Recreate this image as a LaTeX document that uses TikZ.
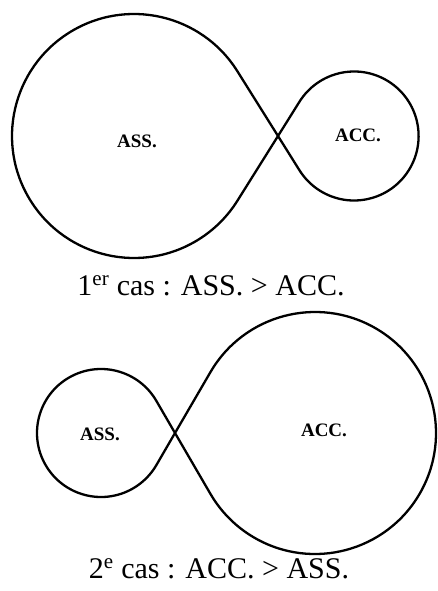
\documentclass[tikz,border=0pt]{standalone}
\usepackage{fontspec}
\setmainfont{Liberation Serif}
\begin{document}
\begin{tikzpicture}[x=1pt, y=1pt, line width=2.3pt, line join=round,
    lbl/.style={font=\fontsize{19}{19}\selectfont\bfseries},
    legende/.style={font=\fontsize{30}{30}\selectfont, anchor=base}]
    \useasboundingbox (0,0) rectangle (438,-591);

    % 1er cas : grande boucle a gauche
    \coordinate (B1) at (134,-136);
    \coordinate (S1) at (354.1,-136);
    \coordinate (X1) at (278,-136);
    \draw ([shift={(32.1:122)}]B1) arc[start angle=32.1, end angle=327.9, radius=122]
        -- (X1) -- ([shift={(147.9:64.5)}]S1) arc[start angle=147.9, end angle=-147.9, radius=64.5]
        -- (X1) -- cycle;
    \node[lbl] (ass1) at (137,-141) {ASS.};
    \node[lbl] (acc1) at (358,-135) {ACC.};
    \node[legende] (cas1) at (211,-295) {1\textsuperscript{er} cas : ASS. > ACC.};

    % 2e cas : grande boucle a droite
    \coordinate (S2) at (101,-433);
    \coordinate (B2) at (315,-433);
    \coordinate (X2) at (175,-433);
    \draw ([shift={(30.1:64)}]S2) arc[start angle=30.1, end angle=329.9, radius=64]
        -- (X2) -- ([shift={(149.9:121)}]B2) arc[start angle=149.9, end angle=-149.9, radius=121]
        -- (X2) -- cycle;
    \node[lbl] (ass2) at (100,-434) {ASS.};
    \node[lbl] (acc2) at (324,-430) {ACC.};
    \node[legende] (cas2) at (219,-578) {2\textsuperscript{e} cas : ACC. > ASS.};
\end{tikzpicture}
\end{document}
